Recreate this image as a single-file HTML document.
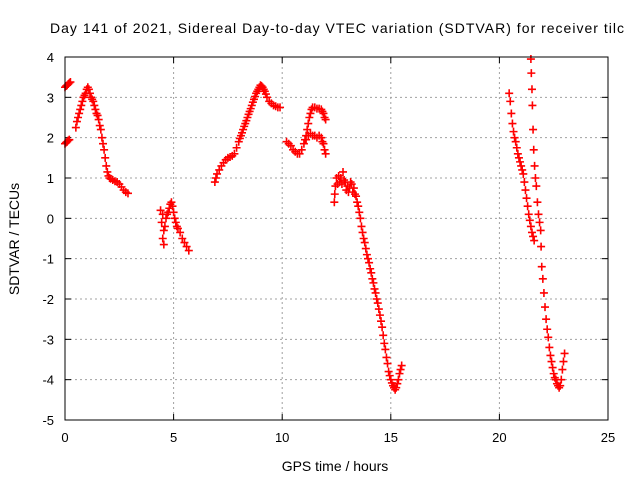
<!DOCTYPE html>
<html><head><meta charset="utf-8"><style>
body{margin:0;background:#fff}
svg{display:block;font-family:"Liberation Sans",sans-serif}
</style></head><body>
<svg id="chart" width="640" height="480">
<text x="50" y="33" font-size="14" fill="#000" textLength="574" lengthAdjust="spacing">Day 141 of 2021, Sidereal Day-to-day VTEC variation (SDTVAR) for receiver tilc</text>
<text x="335" y="471" font-size="14" text-anchor="middle">GPS time / hours</text>
<text transform="translate(19,239) rotate(-90)" font-size="14" text-anchor="middle">SDTVAR / TECUs</text>
<g id="grid"></g>
<g id="ticks"></g>
<g id="marks"></g>
<rect x="65" y="57" width="543" height="363" fill="none" stroke="#000" stroke-width="1"/>
</svg>
<script>
const xTicks=[0,5,10,15,20,25];
const yTicks=[4,3,2,1,0,-1,-2,-3,-4,-5];
const segA1=[[0,3.25],[0.05,3.28],[0.1,3.3],[0.15,3.33],[0.2,3.36],[0.25,3.38]];
const segA2=[[0,1.85],[0.05,1.88],[0.1,1.9],[0.15,1.93],[0.2,1.95]];
const segB=[[0.5,2.25],[0.55,2.4],[0.6,2.5],[0.65,2.6],[0.7,2.7],[0.75,2.8],[0.8,2.9],[0.85,3.0],[0.9,3.05],[0.95,3.1],[1.0,3.2],[1.05,3.25],[1.1,3.2],[1.15,3.1],[1.2,3.0],[1.25,2.95],[1.3,2.9],[1.35,2.8],[1.4,2.7],[1.45,2.6],[1.5,2.55],[1.55,2.45],[1.6,2.3],[1.65,2.2],[1.7,2.0],[1.75,1.85],[1.8,1.7],[1.85,1.5],[1.9,1.3],[1.95,1.15],[2.0,1.05],[2.05,1.0],[2.1,0.98],[2.2,0.95],[2.3,0.92],[2.4,0.9],[2.5,0.85],[2.6,0.78],[2.7,0.7],[2.8,0.65],[2.9,0.62]];
const segC=[[4.4,0.2],[4.45,-0.1],[4.5,-0.5],[4.55,-0.65],[4.5,0.1],[4.55,-0.3],[4.6,-0.2],[4.65,0.0],[4.7,0.1],[4.75,0.15],[4.8,0.25],[4.85,0.35],[4.9,0.4],[4.95,0.3],[5.0,0.15],[5.05,0.0],[5.1,-0.1],[5.15,-0.2],[5.2,-0.25],[5.3,-0.35],[5.4,-0.5],[5.5,-0.6],[5.6,-0.7],[5.7,-0.8]];
const segD=[[6.9,0.9],[6.95,1.0],[7.0,1.1],[7.1,1.2],[7.2,1.3],[7.3,1.38],[7.4,1.45],[7.5,1.5],[7.6,1.52],[7.7,1.55],[7.8,1.6],[7.9,1.75],[8.0,1.9],[8.05,1.98],[8.1,2.05],[8.15,2.12],[8.2,2.2],[8.25,2.28],[8.3,2.35],[8.35,2.42],[8.4,2.5],[8.45,2.58],[8.5,2.65],[8.55,2.72],[8.6,2.8],[8.65,2.88],[8.7,2.95],[8.75,3.02],[8.8,3.1],[8.85,3.15],[8.9,3.2],[8.95,3.25],[9.0,3.3],[9.05,3.28],[9.1,3.25],[9.15,3.2],[9.2,3.15],[9.25,3.08],[9.3,3.0],[9.4,2.9],[9.5,2.85],[9.6,2.8],[9.7,2.78],[9.8,2.75],[9.9,2.75]];
const segE=[[10.2,1.9],[10.3,1.85],[10.4,1.8],[10.5,1.7],[10.6,1.65],[10.7,1.6],[10.8,1.6],[10.9,1.7],[11.0,1.85],[11.05,1.95],[11.1,2.05],[11.15,2.2],[11.2,2.35],[11.25,2.5],[11.3,2.6],[11.35,2.7],[11.4,2.75],[11.5,2.75],[11.6,2.72],[11.7,2.72],[11.8,2.7],[11.85,2.65],[11.9,2.6],[11.95,2.5],[12.0,2.45],[11.1,1.95],[11.2,2.05],[11.3,2.1],[11.4,2.05],[11.5,2.05],[11.6,2.0],[11.7,2.05],[11.8,2.0],[11.85,1.9],[11.9,1.85],[11.95,1.7],[12.0,1.6]];
const segF=[[12.4,0.4],[12.42,0.6],[12.45,0.8],[12.5,1.0],[12.55,0.85],[12.6,1.05],[12.65,0.9],[12.7,1.0],[12.75,0.85],[12.8,1.15],[12.85,0.95],[12.9,0.9],[12.95,0.7],[13.0,0.8],[13.05,0.65],[13.1,0.75],[13.15,0.9],[13.2,0.85],[13.25,0.65],[13.3,0.75],[13.35,0.6],[13.4,0.55],[13.45,0.4],[13.5,0.3],[13.55,0.15],[13.6,0.0],[13.65,-0.2],[13.7,-0.35],[13.75,-0.5],[13.8,-0.6],[13.85,-0.75],[13.9,-0.9],[13.95,-1.0],[14.0,-1.1],[14.05,-1.25],[14.1,-1.35],[14.15,-1.5],[14.2,-1.6],[14.25,-1.75],[14.3,-1.85],[14.35,-2.0],[14.4,-2.1],[14.45,-2.25],[14.5,-2.4],[14.55,-2.55],[14.6,-2.7],[14.65,-2.9],[14.7,-3.1],[14.75,-3.25],[14.8,-3.45],[14.85,-3.6],[14.9,-3.8],[14.95,-3.9],[15.0,-4.0],[15.05,-4.08],[15.1,-4.15],[15.15,-4.2],[15.2,-4.25],[15.25,-4.2],[15.3,-4.1],[15.35,-4.0],[15.4,-3.85],[15.45,-3.75],[15.5,-3.65]];
const segG1=[[20.45,3.1],[20.5,2.9],[20.55,2.6],[20.6,2.35],[20.65,2.15],[20.7,2.0],[20.75,1.9],[20.8,1.75],[20.85,1.6],[20.9,1.5],[20.95,1.4],[21.0,1.3],[21.05,1.2],[21.1,1.1],[21.15,0.9],[21.2,0.7],[21.25,0.5],[21.3,0.3],[21.35,0.1],[21.4,-0.05],[21.45,-0.2],[21.5,-0.35],[21.55,-0.45],[21.6,-0.55]];
const segG2=[[21.45,3.95],[21.47,3.6],[21.5,3.2],[21.52,2.8],[21.55,2.2],[21.58,1.7],[21.62,1.3],[21.66,1.0],[21.7,0.8],[21.75,0.4],[21.8,0.1],[21.85,-0.1],[21.9,-0.3],[21.92,-0.7],[21.95,-1.2],[22.0,-1.5],[22.05,-1.85],[22.1,-2.2],[22.15,-2.5],[22.2,-2.75],[22.25,-2.95],[22.3,-3.2],[22.35,-3.4],[22.4,-3.55],[22.45,-3.7],[22.5,-3.85],[22.55,-3.95],[22.6,-4.0],[22.65,-4.1],[22.7,-4.15],[22.75,-4.2],[22.8,-4.15],[22.85,-4.0],[22.9,-3.75],[22.95,-3.55],[23.0,-3.35]];
const series=[segA1,segA2,segB,segC,segD,segE,segF,segG1,segG2];

const X0=65,X1=608,Y0=420,Y1=57;
function sx(t){return X0+(t-0)/(25-0)*(X1-X0);}
function sy(v){return Y0-(v-(-5))/(4-(-5))*(Y0-Y1);}
const NS='http://www.w3.org/2000/svg';
const grid=document.getElementById('grid'),ticks=document.getElementById('ticks'),marks=document.getElementById('marks');
function mk(tag,attrs,parent){const e=document.createElementNS(NS,tag);for(const k in attrs)e.setAttribute(k,attrs[k]);parent.appendChild(e);return e;}
xTicks.forEach(t=>{
  const x=sx(t);
  if(t>0&&t<25){const g=mk('line',{x1:x,x2:x,y1:Y1,y2:Y0,stroke:'#a0a0a0','stroke-dasharray':'2,3'},grid);
  
  }
  mk('line',{x1:x,x2:x,y1:Y0,y2:Y0-6,stroke:'#000'},ticks);
  mk('line',{x1:x,x2:x,y1:Y1,y2:Y1+6,stroke:'#000'},ticks);
  const l=mk('text',{x:x,y:Y0+22,'font-size':'13','text-anchor':'middle'},ticks);
  l.textContent=t;
  
  
});
yTicks.forEach(v=>{
  const y=sy(v);
  if(v<4&&v>-5){const g=mk('line',{x1:X0,x2:X1,y1:y,y2:y,stroke:'#a0a0a0','stroke-dasharray':'2,3'},grid);
  
  }
  mk('line',{x1:X0,x2:X0+6,y1:y,y2:y,stroke:'#000'},ticks);
  mk('line',{x1:X1,x2:X1-6,y1:y,y2:y,stroke:'#000'},ticks);
  const l=mk('text',{x:X0-11,y:y+5,'font-size':'13','text-anchor':'end'},ticks);
  l.textContent=v;
  
  
});
series.forEach(s=>{
  let d='';
  s.forEach(p=>{const x=sx(p[0]),y=sy(p[1]);d+=`M${x-4} ${y}h8M${x} ${y-4}v8`;});
  const path=mk('path',{d:d,stroke:'#ff0000','stroke-width':'1.6',fill:'none'},marks);
  
  
});
</script>
</body></html>
